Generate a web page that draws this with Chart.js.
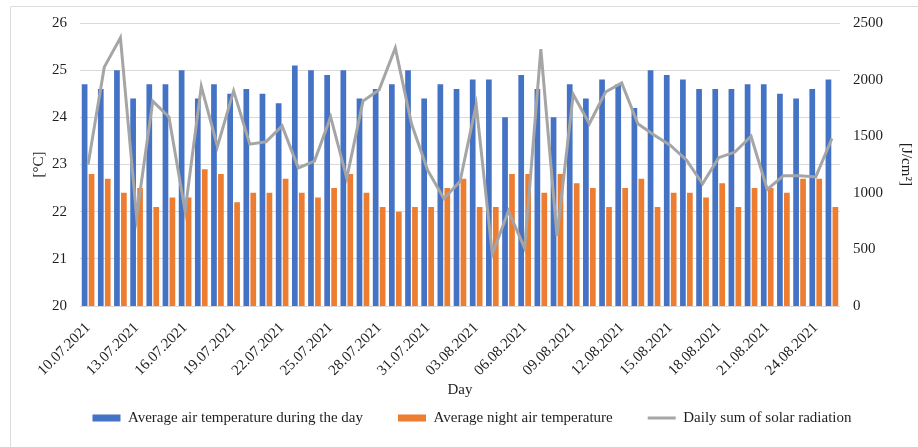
<!DOCTYPE html>
<html>
<head>
<meta charset="utf-8">
<script src="https://cdn.jsdelivr.net/npm/chart.js@4/dist/chart.umd.min.js"></script>
<style>
  body { margin: 0; background: #fff; }
</style>
</head>
<body>
<canvas id="myChart" width="918" height="447"></canvas>
<script>
let days = ['10.07.2021', '11.07.2021', '12.07.2021', '13.07.2021', '14.07.2021', '15.07.2021', '16.07.2021',
    '17.07.2021', '18.07.2021', '19.07.2021', '20.07.2021', '21.07.2021', '22.07.2021', '23.07.2021',
    '24.07.2021', '25.07.2021', '26.07.2021', '27.07.2021', '28.07.2021', '29.07.2021', '30.07.2021',
    '31.07.2021', '01.08.2021', '02.08.2021', '03.08.2021', '04.08.2021', '05.08.2021', '06.08.2021',
    '07.08.2021', '08.08.2021', '09.08.2021', '10.08.2021', '11.08.2021', '12.08.2021', '13.08.2021',
    '14.08.2021', '15.08.2021', '16.08.2021', '17.08.2021', '18.08.2021', '19.08.2021', '20.08.2021',
    '21.08.2021', '22.08.2021', '23.08.2021', '24.08.2021', '25.08.2021'];

let dayTemp = [24.7, 24.6, 25.0, 24.4, 24.7, 24.7, 25.0, 24.4, 24.7, 24.5, 24.6, 24.5, 24.3, 25.1, 25.0, 24.9,
    25.0, 24.4, 24.6, 24.7, 25.0, 24.4, 24.7, 24.6, 24.8, 24.8, 24.0, 24.9, 24.6, 24.0, 24.7, 24.4,
    24.8, 24.7, 24.2, 25.0, 24.9, 24.8, 24.6, 24.6, 24.6, 24.7, 24.7, 24.5, 24.4, 24.6, 24.8];

let nightTemp = [22.8, 22.7, 22.4, 22.5, 22.1, 22.3, 22.3, 22.9, 22.8, 22.2, 22.4, 22.4, 22.7, 22.4, 22.3, 22.5,
    22.8, 22.4, 22.1, 22.0, 22.1, 22.1, 22.5, 22.7, 22.1, 22.1, 22.8, 22.8, 22.4, 22.8, 22.6, 22.5,
    22.1, 22.5, 22.7, 22.1, 22.4, 22.4, 22.3, 22.6, 22.1, 22.5, 22.5, 22.4, 22.7, 22.7, 22.1];

let solar = [1250, 2110, 2370, 790, 1810, 1670, 840, 1940, 1410, 1900, 1430, 1450, 1590, 1220, 1280, 1670,
    1130, 1810, 1910, 2280, 1610, 1200, 950, 1100, 1780, 460, 840, 510, 2270, 620, 1870, 1610,
    1890, 1970, 1610, 1510, 1420, 1290, 1080, 1310, 1360, 1500, 1030, 1150, 1150, 1140, 1480];

let seriesNames = ['Average air temperature during the day', 'Average night air temperature', 'Daily sum of solar radiation'];
let colorHex = ['#4472C4', '#ED7D31', '#A5A5A5'];

let textColor = '#1f1f1f';
let serif = 'Liberation Serif, Times New Roman, serif';

// thin frame on the left and top, like the original figure
let framePlugin = {
    id: 'frame',
    beforeDraw: (chart) => {
        let c = chart.ctx;
        c.save();
        c.strokeStyle = '#dcdcdc';
        c.lineWidth = 1;
        c.beginPath();
        c.moveTo(10.5, 447);
        c.lineTo(10.5, 6.5);
        c.lineTo(918, 6.5);
        c.stroke();
        c.restore();
    }
};

Chart.defaults.font.family = serif;
Chart.defaults.font.size = 15;
Chart.defaults.color = textColor;

let ctx = document.getElementById('myChart');

let myChart = new Chart(ctx, {
    type: 'bar',
    data: {
        labels: days,
        datasets: [{
            label: seriesNames[0],
            data: dayTemp,
            backgroundColor: colorHex[0],
            yAxisID: 'y',
            order: 1,
            pointStyle: 'rect',
            categoryPercentage: 0.86,
            barPercentage: 0.82
        }, {
            label: seriesNames[1],
            data: nightTemp,
            backgroundColor: colorHex[1],
            yAxisID: 'y',
            order: 2,
            pointStyle: 'rect',
            categoryPercentage: 0.86,
            barPercentage: 0.82
        }, {
            type: 'line',
            label: seriesNames[2],
            data: solar,
            borderColor: colorHex[2],
            backgroundColor: colorHex[2],
            borderWidth: 3,
            pointRadius: 0,
            pointStyle: 'line',
            pointBorderColor: colorHex[2],
            pointBorderWidth: 3,
            tension: 0,
            yAxisID: 'y1',
            order: 0
        }]
    },
    options: {
        responsive: false,
        animation: false,
        layout: {
            padding: { left: 26, right: 0, top: 23, bottom: 11.5 }
        },
        plugins: {
            tooltip: { enabled: false },
            legend: {
                position: 'bottom',
                labels: {
                    usePointStyle: true,
                    pointStyleWidth: 28,
                    boxHeight: 7,
                    padding: 35,
                    color: textColor,
                    font: { size: 15 },
                    sort: (a, b) => a.datasetIndex - b.datasetIndex
                }
            }
        },
        scales: {
            x: {
                offset: true,
                grid: { display: false },
                border: { display: false },
                ticks: {
                    autoSkip: false,
                    minRotation: 45,
                    maxRotation: 45,
                    padding: 5,
                    font: { size: 15 },
                    callback: (value, index) => {
                        return index % 3 === 0 ? days[index] : '';
                    }
                },
                title: {
                    display: true,
                    text: 'Day',
                    font: { size: 15 },
                    padding: { top: 0, bottom: -23.5 }
                },
                afterFit: (scale) => {
                    scale.height = 69.5;
                }
            },
            y: {
                position: 'left',
                min: 20,
                max: 26,
                ticks: {
                    stepSize: 1,
                    padding: 13,
                    font: { size: 15 }
                },
                grid: {
                    color: '#d9d9d9',
                    drawTicks: false
                },
                border: { display: false },
                title: {
                    display: true,
                    text: '[°C]',
                    font: { size: 15 },
                    padding: { top: 4, bottom: 0 }
                },
                afterFit: (scale) => {
                    scale.width = 54;
                }
            },
            y1: {
                position: 'right',
                min: 0,
                max: 2500,
                ticks: {
                    stepSize: 500,
                    padding: 13,
                    font: { size: 15 },
                    callback: (value) => {
                        return String(value);
                    }
                },
                grid: {
                    drawOnChartArea: false,
                    drawTicks: false
                },
                border: { display: false },
                title: {
                    display: true,
                    text: '[J/cm²]',
                    font: { size: 15 },
                    padding: { top: 3, bottom: 0 }
                },
                afterFit: (scale) => {
                    scale.width = 78;
                }
            }
        }
    },
    plugins: [framePlugin]
});
</script>
</body>
</html>
